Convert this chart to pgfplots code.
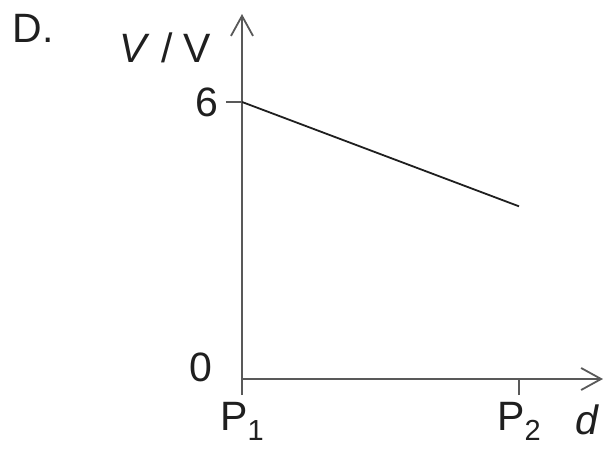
\documentclass[border=0pt]{standalone}
\usepackage{pgfplots}
\pgfplotsset{compat=1.18}
\usepackage{fontspec}
\setmainfont{Liberation Sans}
\usetikzlibrary{arrows.meta}
\definecolor{axgray}{gray}{0.35}
\definecolor{ink}{gray}{0.12}
\newcommand{\bigfont}{\fontsize{41}{41}\selectfont}
\newcommand{\sub}[1]{\raisebox{-10pt}{\fontsize{29}{29}\selectfont #1}}
\begin{document}
\begin{tikzpicture}
\useasboundingbox (0,0) rectangle (603pt,448pt);
\node[font=\bigfont, text=ink, inner sep=0pt] at (33pt,420pt) {D.};
\begin{axis}[
  at={(242pt,69pt)}, anchor=south west,
  x=277pt, y=46.17pt,
  xmin=0, xmax=1.3032, ymin=0, ymax=7.905,
  axis lines=left,
  axis line style={line width=1.8pt, color=axgray, -{Straight Barb[length=20pt,width=22pt]}},
  xtick={0,1}, xticklabels={P\sub{1}, P\sub{2}},
  ytick={6}, yticklabels={6},
  extra y ticks={0}, extra y tick labels={0},
  extra y tick style={major tick length=0pt, yticklabel style={yshift=12pt, xshift=-22pt}},
  tick align=outside, major tick length=16pt,
  tick style={line width=1.8pt, color=axgray},
  tick label style={font=\bigfont, text=ink},
  xticklabel style={yshift=-6pt, inner sep=1pt},
  yticklabel style={xshift=-4pt},
  xlabel={\textit{d}}, ylabel={\textit{V} / V},
  xlabel style={at={(axis description cs:0.958,-0.112)}, anchor=center, font=\bigfont, text=ink},
  ylabel style={at={(axis description cs:-0.213,0.907)}, anchor=center, rotate=-90, font=\bigfont, text=ink},
]
\addplot[line width=1.8pt, color=ink] coordinates {(0,6) (1,3.74)};
\end{axis}
\end{tikzpicture}
\end{document}
